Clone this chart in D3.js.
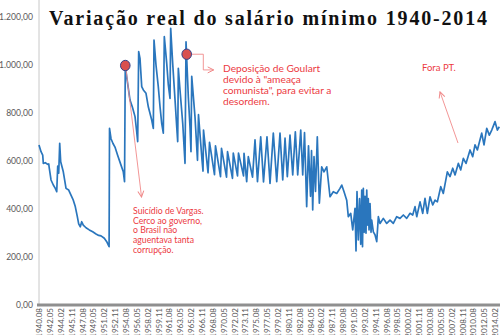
<!DOCTYPE html>
<html><head><meta charset="utf-8">
<script src="https://cdn.jsdelivr.net/npm/d3@7"></script>
<style>html,body{margin:0;padding:0;background:#fff;overflow:hidden}</style>
</head><body><svg id="c" width="504" height="335"></svg>
<script>
// ---- data ----
const dates = [
1940.50,1940.83,1941.10,1941.20,1941.52,1941.91,1942.07,1942.16,1942.44,1942.81,
1943.13,1943.36,1943.52,1943.68,1943.84,1944.00,1944.21,1944.42,1944.86,1945.29,
1945.66,1946.03,1946.35,1946.68,1946.90,1947.16,1947.39,1947.64,1948.08,1948.61,
1949.16,1949.69,1950.13,1950.50,1951.03,1951.42,1951.74,1951.80,1951.87,1952.11,
1952.43,1952.75,1953.19,1953.72,1954.09,1954.29,1954.41,1954.64,1955.17,1955.54,
1955.98,1956.25,1956.41,1956.57,1956.78,1957.06,1957.32,1957.75,1958.12,1958.67,
1958.93,1959.04,1959.36,1959.73,1960.01,1960.28,1960.54,1960.70,1961.09,1961.35,
1961.62,1961.73,1962.05,1962.43,1962.70,1962.86,1962.96,1963.23,1963.67,1964.04,
1964.20,1964.57,1964.84,1965.00,1965.12,1965.65,1966.05,1966.21,1966.78,1966.94,
1967.02,1967.75,1967.99,1968.79,1968.95,1969.76,1969.92,1970.73,1970.89,1971.69,
1971.82,1972.50,1972.66,1973.47,1973.55,1973.98,1974.24,1974.92,1975.32,1975.72,
1976.24,1976.69,1977.25,1977.74,1978.27,1978.82,1979.35,1979.79,1980.16,1980.53,
1980.96,1981.40,1981.82,1982.20,1982.69,1983.01,1983.30,1983.65,1983.94,1984.27,
1984.43,1984.62,1984.83,1985.07,1985.36,1985.69,1986.07,1986.44,1986.88,1987.41,
1987.94,1988.49,1989.02,1989.30,1989.67,1990.10,1990.36,1990.75,1991.07,1991.44,
1991.60,1991.76,1991.97,1992.17,1992.36,1992.52,1992.65,1992.78,1992.92,1993.05,
1993.21,1993.33,1993.46,1993.58,1993.70,1993.86,1994.02,1994.13,1994.39,1994.66,
1994.94,1995.20,1995.47,1996.00,1996.55,1997.08,1997.61,1998.16,1998.69,1999.23,
1999.77,2000.31,2000.74,2001.11,2001.39,2001.92,2002.35,2002.72,2003.10,2003.53,
2003.97,2004.34,2004.71,2005.26,2005.67,2006.32,2006.75,2007.19,2007.56,2008.09,
2008.48,2008.90,2009.33,2009.98,2010.41,2010.78,2011.16,2011.86,2012.23,2012.67,
2013.09,2013.48,2014.01,2014.38,2014.70
];
const values = [
664,636,622,587,590,583,585,567,518,497,
483,469,576,546,671,594,573,552,483,476,
455,434,407,365,335,323,344,330,319,310,
302,293,287,285,275,261,243,240,733,690,
670,655,620,580,552,511,995,948,851,823,
782,719,678,1053,1025,907,893,879,823,768,
733,1101,997,907,823,754,713,1115,1004,914,
858,1150,1004,851,740,678,983,893,754,587,
1094,865,740,636,950,780,600,790,600,555,
726,548,675,540,660,532,650,530,636,525,
630,535,630,535,629,511,615,530,685,511,
698,510,698,504,713,511,713,518,692,532,
705,539,719,539,726,539,715,407,660,450,
640,393,615,470,698,421,573,552,573,448,
469,462,483,497,469,434,365,379,310,400,
222,470,268,440,250,476,240,483,300,450,
296,476,330,440,310,420,300,351,302,290,
261,365,337,358,337,351,337,365,358,372,
358,379,372,407,365,427,379,441,379,448,
414,434,427,490,462,552,532,567,539,587,
560,608,587,643,615,664,643,713,664,733,
705,726,761,726,740
];
const tickLabels = ["1940.08","1942.05","1944.02","1945.11","1947.08","1949.05","1951.02","1952.11",
"1954.08","1956.05","1958.02","1959.11","1961.08","1963.05","1965.02","1966.11","1968.08","1970.05",
"1972.02","1973.11","1975.08","1977.05","1979.02","1980.11","1982.08","1984.05","1986.02","1987.11",
"1989.08","1991.05","1993.02","1994.11","1996.08","1998.05","2000.02","2001.11","2003.08","2005.05",
"2007.02","2008.11","2010.08","2012.05","2014.02"];
const yTicks = [0,200,400,600,800,1000,1200];
const title = "Variação real do salário mínimo 1940-2014";
const eventDates = [1954.41, 1964.31];
const eventValues = [995, 1042];
const vargasText = ["Suicídio de Vargas.","Cerco ao governo,","o Brasil não","aguentava tanta","corrupção."];
const goulartText = ["Deposição de Goulart","devido à \"ameaça","comunista\", para evitar a","desordem."];
const foraText = ["Fora PT."];

// ---- drawing ----
const svg = d3.select("#c");
const lab = s => { const [y,m] = s.split(".").map(Number); return y + (m-1)/12; };
const x = d3.scaleLinear().domain([lab(tickLabels[0]), lab(tickLabels[tickLabels.length-1])]).range([39.5, 495.5]);
const y = d3.scaleLinear().domain([0,1200]).range([304.3, 16.3]);
const br = d3.formatLocale({decimal:",", thousands:".", grouping:[3], currency:["",""]});
const fmt = br.format(",.2f");
const axisCol = "#595959";
const red = "#ec3a3f", redLine = "#f08a8a";

// y axis line
svg.append("line").attr("x1",39).attr("x2",39).attr("y1",0).attr("y2",305)
  .attr("stroke","#c8c8c8").attr("stroke-width",1);
// y labels
const yAxis = d3.axisLeft(y).tickValues(yTicks).tickFormat(fmt).tickSize(0).tickPadding(6);
const gy = svg.append("g").attr("transform","translate(39,0)").call(yAxis);
gy.select(".domain").remove();
gy.selectAll("text").attr("font-family","Lato, 'Liberation Sans', sans-serif").attr("font-size",8.6).attr("fill",axisCol);

// x axis bar
svg.append("line").attr("x1",37).attr("x2",500).attr("y1",305).attr("y2",305)
  .attr("stroke","#8f8f8f").attr("stroke-width",3);
// x labels
svg.append("g").selectAll("text").data(tickLabels).join("text")
  .attr("transform", d => `translate(${x(lab(d))},308) rotate(-90)`)
  .attr("text-anchor","end").attr("dy","0.33em")
  .attr("font-family","Lato, 'Liberation Sans', sans-serif").attr("font-size",8)
  .attr("fill",axisCol).text(d => d);

// title
svg.append("text").attr("x",49).attr("y",25).attr("textLength",438).attr("lengthAdjust","spacing")
  .attr("font-family","'Liberation Serif', 'Times New Roman', serif").attr("font-weight","bold")
  .attr("font-size",20).attr("fill","#111").text(title);

// series line
const pts = dates.map((d,i) => [d, values[i]]);
svg.append("path").datum(pts)
  .attr("d", d3.line().x(d => x(d[0])).y(d => y(d[1])))
  .attr("fill","none").attr("stroke","#2a76bd").attr("stroke-width",1.7)
  .attr("stroke-linejoin","round");

// arrow marker
const defs = svg.append("defs");
defs.append("marker").attr("id","arr").attr("viewBox","0 0 8 8").attr("refX",7).attr("refY",4)
  .attr("markerWidth",8).attr("markerHeight",8).attr("markerUnits","userSpaceOnUse").attr("orient","auto")
  .append("path").attr("d","M1,1 L7,4 L1,7").attr("fill","none").attr("stroke",redLine).attr("stroke-width",1);

// Vargas arrow
const v0 = [x(eventDates[0]), y(eventValues[0])];
svg.append("line").attr("x1",v0[0]+0.5).attr("y1",v0[1]+2).attr("x2",x(1957.03)).attr("y2",y(447))
  .attr("stroke",redLine).attr("stroke-width",0.9).attr("marker-end","url(#arr)");
// Goulart connector
const g0 = [x(eventDates[1]), y(eventValues[1])];
svg.append("path").attr("d",`M${g0[0]+4},${g0[1]} H${g0[0]+16.6} V${g0[1]+15.7} H${g0[0]+27}`)
  .attr("fill","none").attr("stroke",redLine).attr("stroke-width",0.9).attr("marker-end","url(#arr)");
// Fora PT arrow
svg.append("line").attr("x1",x(2008.04)).attr("y1",y(672)).attr("x2",x(2005.14)).attr("y2",y(885))
  .attr("stroke",redLine).attr("stroke-width",0.9).attr("marker-end","url(#arr)");

// event circles
svg.append("g").selectAll("ellipse").data(eventDates).join("ellipse")
  .attr("cx",(d,i)=>x(d)).attr("cy",(d,i)=>y(eventValues[i]))
  .attr("rx",4.8).attr("ry",5.2)
  .attr("fill","#d9504f").attr("stroke","#33418a").attr("stroke-width",1);

// annotation texts
function block(lines, x0, y0, dy, fs){
  svg.append("g").selectAll("text").data(lines).join("text")
    .attr("x",x0).attr("y",(d,i)=>y0+i*dy)
    .attr("font-family","Lato, 'Liberation Sans', sans-serif").attr("font-size",fs)
    .attr("fill",red).text(d=>d);
}
block(vargasText, 133, 214, 9.7, 8.7);
block(goulartText, 223, 71.5, 11, 10.2);
block(foraText, 422, 71, 10, 9.5);
</script></body></html>
